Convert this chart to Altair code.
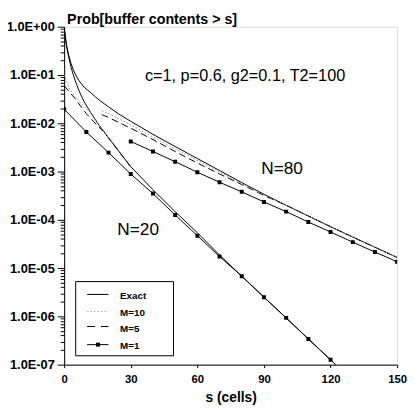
import altair as alt
import pandas as pd

# ---------------- data ----------------
n20_exact_s = [0, 0.5, 1, 2, 3, 4, 5, 6.7, 9, 12, 15, 17.5, 20, 25, 30, 40, 50, 60, 70, 80, 90, 100, 110, 120, 124]
n20_exact_p = [0.955, 0.63, 0.417, 0.24, 0.151, 0.105, 0.076, 0.047, 0.028, 0.0166, 0.0102, 0.0071, 0.0050,
               0.0025, 0.00126, 4.2e-4, 1.48e-4, 5.4e-5, 1.86e-5, 6.8e-6, 2.5e-6, 9.3e-7, 3.4e-7, 1.26e-7, 8.5e-8]

n80_exact_s = [0, 0.5, 1, 2, 3, 4, 5, 6.7, 9, 11.8, 14, 16.4, 20, 24.4, 30, 40, 50, 60, 70, 80, 90, 100, 110,
               120, 130, 140, 150]
n80_exact_p = [0.955, 0.63, 0.427, 0.263, 0.178, 0.132, 0.105, 0.076, 0.056, 0.0437, 0.0355, 0.0288, 0.0219,
               0.0158, 0.011, 5.9e-3, 3.3e-3, 1.86e-3, 1.05e-3, 5.9e-4, 3.4e-4, 2.0e-4, 1.2e-4, 7.2e-5, 4.4e-5,
               2.7e-5, 1.66e-5]

n20_m10_s = [0, 2.5, 5, 7.5, 10, 12, 15, 20]
n20_m10_p = [0.1, 0.05, 0.0355, 0.0263, 0.02, 0.0162, 0.0102, 0.0050]

n20_m5_s = [0, 5, 10, 15, 17.5, 20, 25, 30]
n20_m5_p = [0.060, 0.032, 0.0158, 0.0089, 0.0069, 0.0050, 0.0025, 0.00126]

n20_m1_s = [0, 10, 20, 30, 40, 50, 60, 70, 80, 90, 100, 110, 120]
n20_m1_p = [0.0195, 0.0066, 0.00247, 8.9e-4, 3.5e-4, 1.26e-4, 4.7e-5, 1.74e-5, 6.8e-6, 2.5e-6, 9.3e-7,
            3.4e-7, 1.26e-7]

n80_m10_s = [17, 20, 30, 40, 50, 60, 70, 80, 90, 100, 110, 120, 130, 140, 150]
n80_m10_p = [0.0182, 0.0158, 0.0093, 5.2e-3, 2.95e-3, 1.7e-3, 9.8e-4, 5.6e-4, 3.3e-4, 2.0e-4, 1.2e-4,
             7.2e-5, 4.4e-5, 2.7e-5, 1.66e-5]

n80_m5_s = [17, 20, 30, 40, 50, 60, 70, 80, 90, 100, 110, 120, 130, 140, 150]
n80_m5_p = [0.0151, 0.0132, 0.0079, 4.6e-3, 2.6e-3, 1.5e-3, 8.9e-4, 5.4e-4, 3.2e-4, 2.0e-4, 1.2e-4,
            7.2e-5, 4.4e-5, 2.7e-5, 1.66e-5]

n80_m1_s = [30, 40, 50, 60, 70, 80, 90, 100, 110, 120, 130, 140, 150]
n80_m1_p = [0.0042, 0.0026, 0.0016, 9.7e-4, 6.0e-4, 3.8e-4, 2.35e-4, 1.48e-4, 9.0e-5, 5.6e-5, 3.45e-5,
            2.15e-5, 1.35e-5]

x_ticks = [0, 30, 60, 90, 120, 150]
decades = [1e-7, 1e-6, 1e-5, 1e-4, 1e-3, 1e-2, 1e-1, 1.0]
title_text = "Prob[buffer contents > s]"
param_text = "c=1, p=0.6, g2=0.1, T2=100"
legend_labels = ["Exact", "M=10", "M=5", "M=1"]
x_title = "s (cells)"


def frame(name, s, p):
    return pd.DataFrame({"s": s, "p": p, "curve": name})


solid_df = pd.concat([frame("N20 exact", n20_exact_s, n20_exact_p),
                      frame("N80 exact", n80_exact_s, n80_exact_p),
                      frame("N20 M1", n20_m1_s, n20_m1_p),
                      frame("N80 M1", n80_m1_s, n80_m1_p)])
dashed_df = pd.concat([frame("N20 M5", n20_m5_s, n20_m5_p),
                       frame("N80 M5", n80_m5_s, n80_m5_p)])
dotted_df = pd.concat([frame("N20 M10", n20_m10_s, n20_m10_p),
                       frame("N80 M10", n80_m10_s, n80_m10_p)])
marker_df = pd.concat([frame("N20 M1", n20_m1_s, n20_m1_p),
                       frame("N80 M1", n80_m1_s, n80_m1_p)])

minor_vals = []
for d in decades[:-1]:
    for m in range(1, 10):
        minor_vals.append(d * m)
minor_vals.append(1.0)

FONT = "Liberation Sans"
is_dec = "abs(log(datum.value)/LN10 - round(log(datum.value)/LN10)) < 0.001"
ylab = ("(%s) ? ('1.0E' + (round(log(datum.value)/LN10) >= 0 ? '+0' : '-0') + "
        "abs(round(log(datum.value)/LN10))) : ''") % is_dec

x_enc = alt.X("s:Q", scale=alt.Scale(domain=[0, 150], nice=False, zero=False),
              axis=alt.Axis(values=x_ticks, title=x_title, grid=False, tickSize=3, tickColor="black",
                            domainColor="black", labelFont=FONT, labelFontSize=11.5, labelFontWeight="bold",
                            labelColor="black", labelPadding=6, titleFont=FONT, titleFontSize=14,
                            titleFontWeight="bold", titleColor="black", titlePadding=6, labelFlush=False))
y_enc = alt.Y("p:Q", scale=alt.Scale(type="log", domain=[1e-7, 1], nice=False),
              axis=alt.Axis(values=minor_vals, title=None, grid=False,
                            tickSize={"condition": {"test": is_dec, "value": 7}, "value": 4},
                            tickColor="black", domainColor="black", labelExpr=ylab, labelOverlap=False,
                            labelFont=FONT, labelFontSize=13, labelFontWeight="bold", labelColor="black",
                            labelPadding=3, labelFlush=False))

base_solid = alt.Chart(solid_df).mark_line(color="black", strokeWidth=1, clip=True).encode(
    x=x_enc, y=y_enc, detail="curve:N", order="s:Q")
base_dashed = alt.Chart(dashed_df).mark_line(color="black", strokeWidth=1, strokeDash=[7, 4], clip=True).encode(
    x="s:Q", y="p:Q", detail="curve:N", order="s:Q")
base_dotted = alt.Chart(dotted_df).mark_line(color="#888888", strokeWidth=1, strokeDash=[1.5, 2],
                                             clip=True).encode(
    x="s:Q", y="p:Q", detail="curve:N", order="s:Q")
markers = alt.Chart(marker_df).mark_square(color="black", size=16, opacity=1, clip=True).encode(
    x="s:Q", y="p:Q")

one = alt.Data(values=[{}])


def txt(text, x, y, size, weight="normal"):
    return alt.Chart(one).mark_text(text=text, align="left", baseline="alphabetic", font=FONT,
                                    fontSize=size, fontWeight=weight, color="black").encode(
        x=alt.value(x), y=alt.value(y))


title = txt(title_text, 3, -3, 14.5, "bold")
param = txt(param_text, 82, 55, 16.5)
n80 = txt("N=80", 200, 149.3, 17.5)
n20 = txt("N=20", 54, 211, 17.5)

leg_box = alt.Chart(one).mark_rect(fill="white", stroke="black", strokeWidth=1).encode(
    x=alt.value(11.7), x2=alt.value(111), y=alt.value(258.7), y2=alt.value(334))
leg_exact = alt.Chart(one).mark_rule(color="black", strokeWidth=1).encode(
    x=alt.value(23.3), x2=alt.value(45), y=alt.value(271.7))
leg_m10 = alt.Chart(one).mark_rule(color="#aaaaaa", strokeWidth=1, strokeDash=[1.5, 2]).encode(
    x=alt.value(23.3), x2=alt.value(45), y=alt.value(289))
leg_m5 = alt.Chart(one).mark_rule(color="black", strokeWidth=1, strokeDash=[8, 6]).encode(
    x=alt.value(23.3), x2=alt.value(45), y=alt.value(304.3))
leg_m1 = alt.Chart(one).mark_rule(color="black", strokeWidth=1).encode(
    x=alt.value(23.3), x2=alt.value(45), y=alt.value(322.7))
leg_m1_pt = alt.Chart(one).mark_square(color="black", size=16, opacity=1).encode(
    x=alt.value(34.3), y=alt.value(322.7))
leg_texts = [txt(legend_labels[0], 56.7, 276.5, 10, "bold"),
             txt(legend_labels[1], 56.7, 293.5, 10, "bold"),
             txt(legend_labels[2], 56.7, 309.5, 10, "bold"),
             txt(legend_labels[3], 56.7, 327, 10, "bold")]

chart = alt.layer(base_solid, base_dashed, base_dotted, markers, title, param, n80, n20,
                  leg_box, leg_exact, leg_m10, leg_m5, leg_m1, leg_m1_pt, *leg_texts).properties(
    width=338, height=343,
    autosize=alt.AutoSizeParams(type="none"),
    padding={"left": 57, "top": 16, "right": 10, "bottom": 42},
    background="white",
).configure_view(stroke="black", strokeWidth=1).configure(font=FONT)

chart.save("out.html", embed_options={"renderer": "svg", "actions": False})
